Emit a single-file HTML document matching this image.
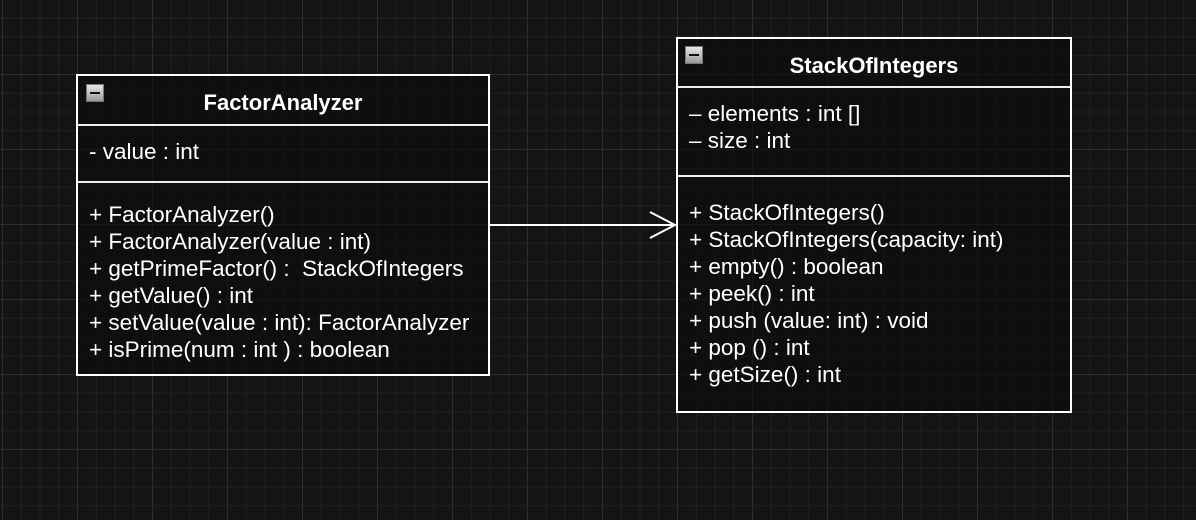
<!DOCTYPE html>
<html><head><style>
body{margin:0;width:1196px;height:520px;overflow:hidden;background:#141414;font-family:"Liberation Sans",Arial,sans-serif;}
.grid{position:absolute;left:0;top:0;width:1196px;height:520px;
background-image:
linear-gradient(to right,#2e2e2e 1px,transparent 1px),
linear-gradient(to bottom,#2e2e2e 1px,transparent 1px),
linear-gradient(to right,#212121 1px,transparent 1px),
linear-gradient(to bottom,#212121 1px,transparent 1px);
background-size:75px 75px,75px 75px,18.75px 18.75px,18.75px 18.75px;
background-position:2px -1px,2px -1px,2px -1px,2px -1px;}
.box{position:absolute;border:2px solid #fff;background:rgba(10,10,10,0.6);box-sizing:border-box;color:#fff;}
.hd{position:absolute;left:0;right:0;top:0;font-weight:bold;font-size:22px;text-align:center;}
.div{position:absolute;left:0;right:0;height:2px;background:#eee;}
.t{position:absolute;font-size:22.5px;white-space:pre;line-height:27px;}
.ic{position:absolute;width:18px;height:18px;background:linear-gradient(#e8e8e8,#999);border:1px solid #777;box-sizing:border-box;}
.ic:after{content:"";position:absolute;left:3px;right:3px;top:7px;height:2px;background:#111;}
</style></head><body>
<div class="grid"></div>
<div class="box" style="left:76px;top:74px;width:414px;height:302px;">
 <div class="ic" style="left:8px;top:8px;"></div>
 <div class="hd" style="top:14px;">FactorAnalyzer</div>
 <div class="div" style="top:48px;"></div>
 <div class="t" style="left:11px;top:62px;">- value : int</div>
 <div class="div" style="top:105px;"></div>
 <div class="t" style="left:11px;top:125px;">+ FactorAnalyzer()
+ FactorAnalyzer(value : int)
+ getPrimeFactor() :  StackOfIntegers
+ getValue() : int
+ setValue(value : int): FactorAnalyzer
+ isPrime(num : int ) : boolean</div>
</div>
<div class="box" style="left:676px;top:37px;width:396px;height:376px;">
 <div class="ic" style="left:7px;top:7px;"></div>
 <div class="hd" style="top:14px;">StackOfIntegers</div>
 <div class="div" style="top:47px;"></div>
 <div class="t" style="left:11px;top:61px;">– elements : int []
– size : int</div>
 <div class="div" style="top:136px;"></div>
 <div class="t" style="left:11px;top:160px;">+ StackOfIntegers()
+ StackOfIntegers(capacity: int)
+ empty() : boolean
+ peek() : int
+ push (value: int) : void
+ pop () : int
+ getSize() : int</div>
</div>
<svg style="position:absolute;left:0;top:0" width="1196" height="520">
 <line x1="490" y1="225" x2="675" y2="225" stroke="#fff" stroke-width="2"/>
 <polyline points="650,212 675,225 650,238" fill="none" stroke="#fff" stroke-width="2"/>
</svg>
</body></html>
